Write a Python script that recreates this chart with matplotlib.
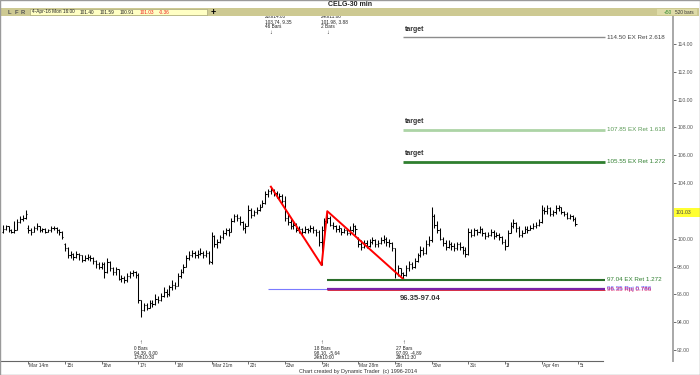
import numpy as np
import matplotlib
matplotlib.use('Agg')
import matplotlib.pyplot as plt
from matplotlib.patches import Rectangle
from matplotlib import transforms

plt.rcParams['font.family'] = ['Liberation Sans', 'DejaVu Sans']

# ---- 30 min bars, CELG, 11-Mar-16 (partial) .. 4-Apr-16 ----
day_names = ['Mar 11', 'Mar 14m', '15t', '16w', '17t', '18f', 'Mar 21m', '22t',
             '23w', '24t', 'Mar 28m', '29t', '30w', '31t', '1f', 'Apr 4m']
day_open = [100.5, 100.8, 99.6, 98.0, 97.4, 96.7, 98.3, 100.9,
            102.7, 99.8, 100.0, 99.3, 99.9, 98.9, 99.8, 101.2]

closes = [
    100.7, 100.9, 100.6, 100.5, 100.6, 101.2, 101.4, 101.5, 101.8,                  # Mar 11
    100.6, 100.5, 100.8, 100.9, 100.6, 100.7, 100.5, 100.6, 100.8, 100.8, 100.6, 100.5, 100.1,  # Mar 14
    99.3, 98.8, 98.9, 98.7, 98.9, 98.8, 98.5, 98.6, 98.7, 98.6, 98.4, 98.2, 98.0,   # Mar 15
    98.2, 97.6, 98.3, 97.9, 97.6, 97.8, 97.1, 97.2, 97.0, 97.3, 97.5, 97.6, 97.4,   # Mar 16
    95.6, 94.9, 95.2, 95.0, 95.4, 95.3, 95.7, 95.6, 95.9, 96.2, 96.0, 96.5, 96.7,   # Mar 17
    96.6, 97.3, 97.6, 98.0, 98.6, 98.8, 99.0, 98.8, 98.9, 99.0, 98.8, 99.0, 98.4,   # Mar 18
    100.2, 99.6, 99.8, 100.1, 100.4, 100.6, 100.5, 101.3, 101.6, 101.5, 101.2, 100.8, 100.9,  # Mar 21
    102.1, 101.7, 101.9, 102.1, 102.3, 102.6, 103.2, 103.4, 103.5, 103.3, 103.0, 103.1, 102.7,  # Mar 22
    101.5, 101.2, 100.9, 101.0, 100.6, 100.7, 100.5, 100.7, 100.6, 100.8, 100.6, 100.5, 99.8,   # Mar 23
    100.6, 101.3, 101.5, 101.0, 100.9, 100.7, 100.8, 100.5, 100.6, 100.4, 100.6, 100.9, 100.7,  # Mar 24
    99.6, 99.4, 99.7, 99.5, 99.8, 99.9, 99.6, 99.7, 99.9, 100.0, 99.8, 99.7, 99.3,  # Mar 28
    97.5, 97.9, 97.5, 97.4, 97.9, 98.2, 98.0, 98.4, 98.8, 99.2, 99.0, 99.6, 99.9,   # Mar 29
    101.6, 101.0, 100.6, 100.0, 99.7, 99.4, 99.6, 99.5, 99.3, 99.6, 99.4, 99.2, 98.9,  # Mar 30
    100.5, 100.3, 100.6, 100.5, 100.7, 100.4, 100.2, 100.3, 100.5, 100.2, 100.3, 100.1, 99.8,  # Mar 31
    99.5, 100.4, 100.9, 101.1, 100.8, 100.3, 100.4, 100.7, 100.6, 100.8, 100.9, 101.0, 101.2,  # Apr 1
    102.1, 102.0, 102.2, 101.8, 101.9, 102.2, 102.3, 101.9, 101.8, 101.5, 101.6, 101.40, 101.03,  # Apr 4
]
highs = [
    101.0, 101.0, 100.9, 100.7, 101.3, 101.4, 101.6, 101.7, 102.05,
    101.0, 100.8, 100.9, 101.1, 100.9, 100.8, 100.8, 100.7, 100.9, 100.9, 100.85, 100.7, 100.55,
    99.7, 99.4, 99.1, 99.0, 99.1, 99.0, 98.85, 98.8, 98.9, 98.8, 98.7, 98.5, 98.3,
    98.3, 98.3, 98.6, 98.4, 98.0, 98.0, 97.8, 97.4, 97.3, 97.5, 97.7, 97.75, 97.7,
    97.5, 95.6, 95.4, 95.4, 95.6, 95.6, 96.0, 95.9, 96.1, 96.5, 96.4, 96.7, 97.0,
    96.9, 97.5, 97.8, 98.2, 98.8, 99.1, 99.2, 99.1, 99.2, 99.3, 99.1, 99.2, 99.1,
    100.5, 100.3, 100.0, 100.3, 100.6, 100.8, 100.8, 101.5, 101.8, 101.8, 101.6, 101.3, 101.1,
    102.4, 102.2, 102.1, 102.3, 102.5, 102.8, 103.4, 103.6, 103.74, 103.6, 103.4, 103.3, 103.2,
    103.1, 101.8, 101.4, 101.3, 101.1, 100.9, 100.8, 100.9, 100.8, 101.0, 100.9, 100.7, 100.6,
    100.9, 101.5, 101.98, 101.6, 101.2, 101.0, 101.0, 100.8, 100.8, 100.7, 100.9, 101.1, 101.0,
    100.1, 99.9, 99.9, 99.9, 100.0, 100.1, 100.0, 99.9, 100.1, 100.3, 100.1, 100.0, 99.8,
    99.3, 98.1, 97.9, 97.6, 98.1, 98.4, 98.3, 98.6, 99.0, 99.5, 99.4, 99.9, 100.2,
    102.3, 101.8, 101.3, 100.8, 100.1, 99.9, 99.9, 99.8, 99.7, 99.8, 99.8, 99.5, 99.4,
    100.8, 100.7, 100.8, 100.7, 100.9, 100.8, 100.5, 100.5, 100.7, 100.6, 100.5, 100.4, 100.2,
    100.0, 100.6, 101.2, 101.4, 101.2, 100.9, 100.6, 100.9, 100.9, 101.0, 101.1, 101.2, 101.4,
    102.4, 102.3, 102.4, 102.3, 102.1, 102.4, 102.45, 102.3, 102.0, 101.9, 101.8, 101.7, 101.59,
]
lows = [
    100.4, 100.6, 100.5, 100.4, 100.4, 100.6, 101.1, 101.3, 101.4,
    100.4, 100.3, 100.5, 100.6, 100.5, 100.5, 100.4, 100.45, 100.5, 100.6, 100.4, 100.3, 99.95,
    99.1, 98.6, 98.6, 98.5, 98.6, 98.5, 98.3, 98.4, 98.5, 98.4, 98.2, 97.9, 97.8,
    97.8, 97.2, 97.5, 97.7, 97.4, 97.4, 97.0, 96.9, 96.8, 96.9, 97.2, 97.3, 97.2,
    95.4, 94.39, 94.8, 94.9, 95.0, 95.1, 95.2, 95.4, 95.5, 95.8, 95.8, 95.9, 96.3,
    96.4, 96.6, 97.2, 97.5, 98.0, 98.5, 98.7, 98.6, 98.6, 98.8, 98.6, 98.7, 98.2,
    98.2, 99.4, 99.3, 99.7, 100.0, 100.3, 100.2, 100.5, 101.2, 101.3, 101.0, 100.6, 100.4,
    100.9, 101.5, 101.6, 101.8, 102.0, 102.3, 102.5, 103.0, 103.2, 103.1, 102.9, 102.8, 102.6,
    101.3, 101.0, 100.7, 100.7, 100.5, 100.4, 100.3, 100.4, 100.4, 100.5, 100.4, 100.2, 99.5,
    98.10, 100.4, 101.1, 100.9, 100.7, 100.5, 100.5, 100.3, 100.4, 100.3, 100.3, 100.5, 100.3,
    99.4, 99.2, 99.3, 99.3, 99.4, 99.6, 99.4, 99.4, 99.6, 99.7, 99.5, 99.4, 99.1,
    97.2, 97.3, 97.3, 97.09, 97.3, 97.7, 97.8, 97.9, 98.3, 98.7, 98.8, 98.9, 99.5,
    99.8, 100.8, 100.4, 99.9, 99.5, 99.2, 99.3, 99.2, 99.1, 99.2, 99.2, 98.9, 98.7,
    98.8, 100.1, 100.2, 100.3, 100.4, 100.2, 100.0, 100.1, 100.2, 100.0, 100.1, 99.9, 99.6,
    99.2, 99.5, 100.4, 100.8, 100.5, 100.1, 100.1, 100.4, 100.4, 100.6, 100.7, 100.8, 100.9,
    101.1, 101.8, 101.8, 101.6, 101.6, 101.8, 102.0, 101.8, 101.6, 101.4, 101.4, 101.3, 100.91,
]
bars_per_day = [9] + [13] * 15

# swing pivots (bar index, price) and projection levels
pivot_bar = [95, 113, 115, 142]
pivot_price = [103.74, 98.10, 101.98, 97.09]
level_price = [114.50, 107.85, 105.55, 97.04, 96.35]
level_text = ['114.50 EX Ret 2.618', '107.85 EX Ret 1.618', '105.55 EX Ret 1.272',
              '97.04 EX Ret 1.272', '96.35 Rpj 0.786']
level_from = [142, 142, 142, 115, 115]
top_notes = [(95, ['22th14:00', '103.74, 9.35', '46 Bars']),
             (115, ['24th11:00', '101.98, 3.88', '2 Bars'])]
bottom_notes = [(49, ['0 Bars', '94.39, 0.00', '17th10:30']),
                (113, ['18 Bars', '98.10, -5.64', '24th10:00']),
                (142, ['27 Bars', '97.09, -4.89', '29th11:30'])]
last_quote = ['101.40', '101.59', '100.91', '101.03', '-0.36']


def fx(px):
    return px / 700.0


def fy(py):
    return 1 - py / 375.0


fig = plt.figure(figsize=(7, 3.75), dpi=100)
ax = fig.add_axes([fx(1), fy(361), fx(672), (361 - 16) / 375.0])
ax.set_xlim(-0.7, 237.6)
ax.set_ylim(91.21, 116.01)

# ---- OHLC bars ----
closes = np.array(closes)
starts = np.cumsum([0] + bars_per_day[:-1])
opens = np.r_[closes[0], closes[:-1]]
opens[starts] = day_open
hi = np.maximum(np.array(highs), np.maximum(opens, closes))
lo = np.minimum(np.array(lows), np.minimum(opens, closes))
x = np.arange(len(closes))
ax.vlines(x, lo, hi, color='black', lw=0.75)
ax.hlines(opens, x - 0.45, x, color='black', lw=0.75)
ax.hlines(closes, x, x + 0.45, color='black', lw=0.75)

# ---- swing lines ----
ax.plot(pivot_bar, pivot_price, color='red', lw=1.4)

# ---- projection levels ----
end = 213.5
styles = [('#8c8c8c', 1.0), ('#acd4a6', 2.0), ('#2f7f2f', 2.0), ('#2a6e2a', 1.5)]
colors = ['#444444', '#5a9a55', '#2f7f2f', '#2f7f2f']
for p, t, s, (c, w), tc in zip(level_price[:4], level_text[:4], level_from[:4], styles, colors):
    ax.hlines(p, s, end, color=c, lw=w)
    ax.text(end + 0.6, p, t, color=tc, fontsize=4.5, va='center')
p = level_price[4]
ax.hlines(p + 0.03, 94, level_from[4], color='#7b7bff', lw=0.8)
ax.hlines(p, level_from[4], end, color='#7a22a8', lw=1.6)
ax.hlines(p - 0.05, level_from[4], end, color='#d0102a', lw=0.6)
ax.text(end + 0.6, p + 0.04, level_text[4], color='#5050ff', fontsize=4.5, va='center')
ax.text(end + 0.7, p, level_text[4], color='#d8206a', fontsize=4.5, va='center')
for p in level_price[:3]:
    ax.text(level_from[0] + 0.5, p + 0.3, 'target', fontsize=5, fontweight='bold',
            color='#333333', va='bottom')
ax.text(148, 95.7, '96.35-97.04', fontsize=5.5, fontweight='bold', color='#333333',
        ha='center', va='center')

# ---- pivot notes ----
bt = transforms.blended_transform_factory(ax.transData, fig.transFigure)
for b, lines in top_notes:
    for k, s in enumerate(lines):
        ax.text(b - 2.2, fy(17 + 4.6 * k), s, transform=bt, fontsize=3.4,
                va='center', color='#222222')
    ax.text(b, fy(32.5), '\u2193', transform=bt, fontsize=4, ha='center', va='center',
            color='#222222')
for b, lines in bottom_notes:
    ax.text(b, fy(343), '\u2191', transform=bt, fontsize=4, ha='center', va='center',
            color='#222222')
    for k, s in enumerate(lines):
        ax.text(b - 2.7, fy(348 + 4.6 * k), s, transform=bt, fontsize=3.4,
                va='center', color='#222222')

# ---- axes ----
for side in ['top', 'left', 'bottom']:
    ax.spines[side].set_visible(False)
ax.spines['right'].set_color('#a8a8a8')
ax.spines['right'].set_linewidth(1.4)
ax.yaxis.tick_right()
ax.set_yticks(np.arange(92, 115, 2))
ax.set_yticklabels(['%.2f' % v for v in np.arange(92, 115, 2)])
ax.tick_params(axis='y', direction='out', length=2, width=0.6, pad=1,
               labelsize=3.7, colors='#555555')
ticks = list(starts[1:]) + [starts[-1] + 13]
tick_names = day_names[1:] + ['5t']
ax.set_xticks(ticks)
ax.set_xticklabels([])
ax.tick_params(axis='x', direction='out', length=2.5, width=0.6, colors='#555555')
for t, s in zip(ticks, tick_names):
    ax.text(t + 0.4, fy(365.5), s, transform=bt, fontsize=3.5, va='center', color='#333333')
ax.plot([0, (603 - 1) / 672.0], [0, 0], transform=ax.transAxes, color='#666666',
        lw=0.8, clip_on=False)

# current price box
fig.patches.append(Rectangle((fx(673.5), fy(217)), fx(26), 9 / 375.0,
                             transform=fig.transFigure, facecolor='#ffff33',
                             edgecolor='none'))
fig.text(fx(676), fy(212.5), '101.03', fontsize=3.7, va='center', color='#444444')

# ---- header strip ----
fig.patches.append(Rectangle((fx(1), fy(15.5)), fx(698), 7.5 / 375.0,
                             transform=fig.transFigure, facecolor='#cdc992',
                             edgecolor='none'))
fig.patches.append(Rectangle((fx(30), fy(15)), fx(177), 6.2 / 375.0,
                             transform=fig.transFigure, facecolor='#ffffc4',
                             edgecolor='#9a9a70', lw=0.4))
fig.patches.append(Rectangle((fx(657), fy(15)), fx(40), 6.2 / 375.0,
                             transform=fig.transFigure, facecolor='#dedba8',
                             edgecolor='none'))
for xp, s in zip([8, 15, 21], ['L', 'F', 'R']):
    fig.text(fx(xp), fy(12), s, fontsize=4.2, fontweight='bold', color='#555555', va='center')
fig.text(fx(32), fy(12), '4-Apr-16 Mon 16:00', fontsize=3.4, va='center', color='#222222')
qx = [80, 100, 120, 140, 159]
qc = ['#222222', '#222222', '#222222', '#ee2222', '#ee2222']
for xp, s, c in zip(qx, last_quote, qc):
    fig.text(fx(xp), fy(12), s, fontsize=3.4, va='center', color=c)
fig.text(fx(213), fy(12), '+', fontsize=6.5, fontweight='bold', ha='center', va='center')
fig.text(fx(664), fy(12), '+50', fontsize=3.4, va='center', color='#2a8a2a')
fig.text(fx(675), fy(12), '520 bars', fontsize=3.4, va='center', color='#333333')
fig.text(0.5, fy(4.5), 'CELG-30 min', fontsize=5, fontweight='bold', ha='center',
         va='center', color='#222222')
fig.text(fx(358), fy(371.5), 'Chart created by Dynamic Trader  (c) 1996-2014', fontsize=4.0,
         ha='center', va='center', color='#333333')

# outer frame
fig.patches.append(Rectangle((0.0007, 0.0013), 0.9986, 0.9974, transform=fig.transFigure,
                             facecolor='none', edgecolor='#9a9a9a', lw=1.0))

fig.savefig('out.png', dpi=100)
